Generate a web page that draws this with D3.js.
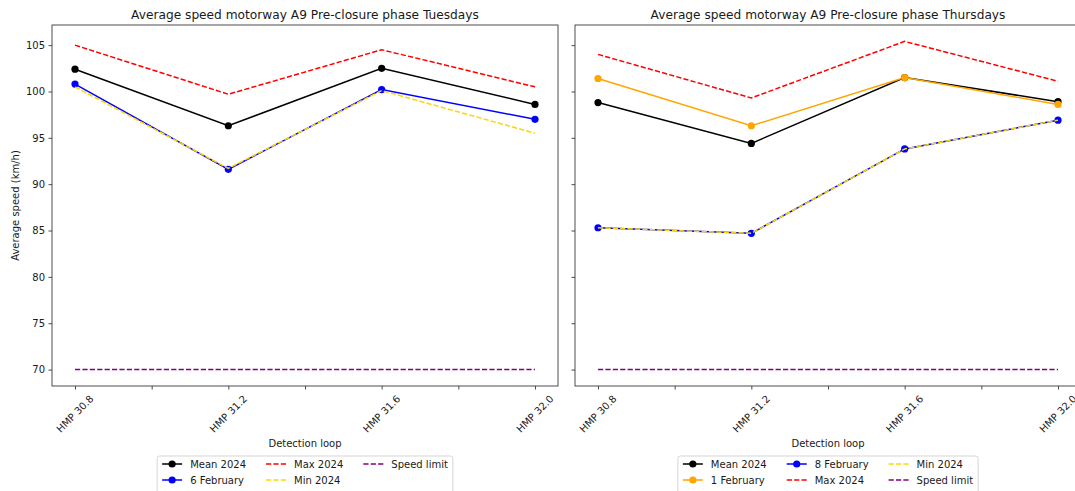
<!DOCTYPE html>
<html>
<head>
<meta charset="utf-8">
<script src="https://cdn.jsdelivr.net/npm/d3@7"></script>
<style>
  body { margin: 0; background: #fff; }
  text { font-family: "DejaVu Sans", sans-serif; fill: #1a1a1a; }
</style>
</head>
<body>
<svg id="chart" width="1075" height="491"></svg>
<script>
//data
var categories = ["HMP 30.8", "HMP 31.2", "HMP 31.6", "HMP 32.0"];
var yTicks = [70, 75, 80, 85, 90, 95, 100, 105];

var tueMean = [102.4, 96.3, 102.5, 98.6];
var tueFeb6 = [100.8, 91.6, 100.2, 97.0];
var tueMax = [105.0, 99.7, 104.5, 100.5];
var tueMin = [100.5, 91.7, 100.1, 95.5];

var thuMean = [98.8, 94.4, 101.5, 98.9];
var thuFeb1 = [101.4, 96.3, 101.5, 98.6];
var thuFeb8 = [85.3, 84.7, 93.8, 96.9];
var thuMax = [104.0, 99.3, 105.4, 101.1];
var thuMin = [85.3, 84.7, 93.8, 96.9];

var speedLimit = [70, 70, 70, 70];

//layout
var plotTop = 25, plotBottom = 386;
var dash = "5.2,2.2";

var svg = d3.select("#chart");

//shared y scale, matplotlib style 5% padding
var all = [].concat(tueMean, tueFeb6, tueMax, tueMin, thuMean, thuFeb1, thuFeb8, thuMax, thuMin, speedLimit);
var yMin = d3.min(all), yMax = d3.max(all), yPad = (yMax - yMin) * 0.05;
var y = d3.scaleLinear()
  .domain([yMin - yPad, yMax + yPad])
  .range([plotBottom, plotTop]);

function panel(left, right, title, series, showYLabels) {
  var x = d3.scaleLinear()
    .domain([-0.15, categories.length - 1 + 0.15])
    .range([left, right]);

  var g = svg.append("g");

  //title
  g.append("text")
    .attr("x", (left + right) / 2)
    .attr("y", 19)
    .attr("text-anchor", "middle")
    .attr("font-size", 12.2)
    .text(title);

  //y axis
  var yAxis = g.append("g")
    .attr("transform", "translate(" + left + ",0)")
    .call(d3.axisLeft(y).tickValues(yTicks).tickSize(3.5).tickPadding(3.5)
      .tickFormat(showYLabels ? d3.format("d") : function() { return ""; }));
  yAxis.select(".domain").remove();
  yAxis.selectAll(".tick line").attr("stroke", "#222").attr("stroke-width", 0.8);
  yAxis.selectAll(".tick text")
    .attr("font-size", 10)
    .attr("font-family", "DejaVu Sans, sans-serif")
    .attr("fill", "#1a1a1a");

  //x axis ticks (half steps unlabeled)
  var xt = d3.range(0, categories.length - 0.5, 0.5);
  var xAxis = g.append("g")
    .attr("transform", "translate(0," + plotBottom + ")")
    .call(d3.axisBottom(x).tickValues(xt).tickSize(3.5).tickFormat(""));
  xAxis.select(".domain").remove();
  xAxis.selectAll(".tick line").attr("stroke", "#222").attr("stroke-width", 0.8);

  //rotated category labels, bbox centred on tick
  categories.forEach(function(c, i) {
    var t = g.append("text")
      .attr("font-size", 10)
      .attr("text-anchor", "end")
      .attr("dominant-baseline", "central")
      .text(c);
    var L = t.node().getComputedTextLength();
    var px = x(i) + 0.354 * L, py = 393 + 4;
    t.attr("transform", "translate(" + px + "," + py + ") rotate(-45)");
  });

  g.append("text")
    .attr("x", (left + right) / 2)
    .attr("y", 447)
    .attr("text-anchor", "middle")
    .attr("font-size", 10)
    .text("Detection loop");

  //lines
  var line = d3.line()
    .x(function(d, i) { return x(i); })
    .y(function(d) { return y(d); });

  series.forEach(function(s) {
    g.append("path")
      .datum(s.values)
      .attr("fill", "none")
      .attr("stroke", s.color)
      .attr("stroke-width", 1.5)
      .attr("stroke-dasharray", s.dashed ? dash : null)
      .attr("d", line);
    if (s.marker) {
      g.selectAll(null)
        .data(s.values)
        .enter().append("circle")
          .attr("cx", function(d, i) { return x(i); })
          .attr("cy", function(d) { return y(d); })
          .attr("r", 3.6)
          .attr("fill", s.color);
    }
  });

  //spines
  g.append("rect")
    .attr("x", left)
    .attr("y", plotTop)
    .attr("width", right - left)
    .attr("height", plotBottom - plotTop)
    .attr("fill", "none")
    .attr("stroke", "#222")
    .attr("stroke-width", 0.8);

  //legend, 3 columns filled top to bottom
  var ncol = 3, nrow = Math.ceil(series.length / ncol);
  var cols = [];
  for (var c = 0; c < ncol; c++) cols.push(series.slice(c * nrow, c * nrow + nrow));

  var leg = g.append("g");
  var handleLen = 20, handlePad = 8, colSpace = 20, pad = 5, rowH = 16;
  var colW = cols.map(function(col) {
    var w = 0;
    col.forEach(function(s) {
      var t = leg.append("text").attr("font-size", 10).text(s.name);
      w = Math.max(w, t.node().getComputedTextLength());
      t.remove();
    });
    return handleLen + handlePad + w;
  });
  var boxW = 2 * pad + d3.sum(colW) + (ncol - 1) * colSpace;
  var boxX = (left + right) / 2 - boxW / 2, boxY = 456;
  var boxH = 2 * pad + nrow * rowH - 2;

  leg.append("rect")
    .attr("x", boxX)
    .attr("y", boxY)
    .attr("width", boxW)
    .attr("height", boxH)
    .attr("rx", 2.5)
    .attr("fill", "#fff")
    .attr("fill-opacity", 0.8)
    .attr("stroke", "#cccccc")
    .attr("stroke-width", 0.8);

  var cx = boxX + pad;
  cols.forEach(function(col, ci) {
    col.forEach(function(s, ri) {
      var cy = boxY + pad + 3 + ri * rowH;
      leg.append("line")
        .attr("x1", cx).attr("x2", cx + handleLen)
        .attr("y1", cy).attr("y2", cy)
        .attr("stroke", s.color)
        .attr("stroke-width", 1.5)
        .attr("stroke-dasharray", s.dashed ? dash : null);
      if (s.marker) {
        leg.append("circle")
          .attr("cx", cx + handleLen / 2)
          .attr("cy", cy)
          .attr("r", 3.6)
          .attr("fill", s.color);
      }
      leg.append("text")
        .attr("x", cx + handleLen + handlePad)
        .attr("y", cy)
        .attr("dy", "0.35em")
        .attr("font-size", 10)
        .text(s.name);
    });
    cx += colW[ci] + colSpace;
  });
}

panel(52, 558, "Average speed motorway A9 Pre-closure phase Tuesdays", [
  {name: "Mean 2024", values: tueMean, color: "#000000", marker: true},
  {name: "6 February", values: tueFeb6, color: "#0000ff", marker: true},
  {name: "Max 2024", values: tueMax, color: "#ff0000", dashed: true},
  {name: "Min 2024", values: tueMin, color: "#ffd700", dashed: true},
  {name: "Speed limit", values: speedLimit, color: "#800080", dashed: true}
], true);

panel(575, 1081, "Average speed motorway A9 Pre-closure phase Thursdays", [
  {name: "Mean 2024", values: thuMean, color: "#000000", marker: true},
  {name: "1 February", values: thuFeb1, color: "#ffa500", marker: true},
  {name: "8 February", values: thuFeb8, color: "#0000ff", marker: true},
  {name: "Max 2024", values: thuMax, color: "#ff0000", dashed: true},
  {name: "Min 2024", values: thuMin, color: "#ffd700", dashed: true},
  {name: "Speed limit", values: speedLimit, color: "#800080", dashed: true}
], false);

//y label
svg.append("text")
  .attr("transform", "translate(19," + (plotTop + plotBottom) / 2 + ") rotate(-90)")
  .attr("text-anchor", "middle")
  .attr("font-size", 10)
  .text("Average speed (km/h)");
</script>
</body>
</html>
